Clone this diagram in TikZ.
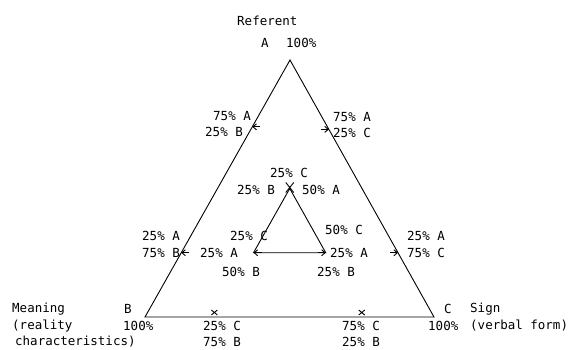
\documentclass[tikz,border=0pt]{standalone}
\usepackage{fontspec}
\setmonofont{DejaVu Sans Mono}
\usetikzlibrary{calc,arrows.meta}
\begin{document}
\begin{tikzpicture}[x=1pt,y=-1pt,
  lbl/.style={anchor=west,inner sep=0pt,font=\ttfamily\fontsize{12.5}{13}\selectfont},
  edge/.style={line width=0.9pt},
  tick/.style={line width=0.9pt},
  tickarrow/.style={line width=0.9pt,-{Straight Barb[length=3.5pt,width=6pt]}}]
\useasboundingbox (0,0) rectangle (578,350);
% vertices
\coordinate (A) at (290,60);
\coordinate (B) at (145,317);
\coordinate (C) at (434,317);
\coordinate (iA) at ($0.5*(A)+0.25*(B)+0.25*(C)$);
\coordinate (iB) at ($0.25*(A)+0.5*(B)+0.25*(C)$);
\coordinate (iC) at ($0.25*(A)+0.25*(B)+0.5*(C)$);
% triangles
\draw[edge] (A) -- (B) -- (C) -- cycle;
\draw[edge] (iA) -- (iB) -- (iC) -- cycle;
% marks on edges
\coordinate (mAB1) at ($(A)!0.26!(B)$);
\coordinate (mAB2) at ($(A)!0.75!(B)$);
\coordinate (mAC1) at ($(A)!0.27!(C)$);
\coordinate (mAC2) at ($(A)!0.75!(C)$);
\coordinate (mBC1) at ($(B)!0.24!(C)$);
\coordinate (mBC2) at ($(B)!0.75!(C)$);
\draw[tickarrow] ($(mAB1)+(8,0)$) -- (mAB1);
\draw[tickarrow] ($(mAB2)+(8,0)$) -- (mAB2);
\draw[tickarrow] ($(mAC1)+(-8,0)$) -- (mAC1);
\draw[tickarrow] ($(mAC2)+(-8,0)$) -- (mAC2);
\draw[tick] ($(mBC1)+(-3,-7)$) -- ($(mBC1)+(3,-2)$) ($(mBC1)+(3,-7)$) -- ($(mBC1)+(-3,-2)$);
\draw[tick] ($(mBC2)+(-3,-7)$) -- ($(mBC2)+(3,-2)$) ($(mBC2)+(3,-7)$) -- ($(mBC2)+(-3,-2)$);
\draw[tick] ($(iA)+(-4,-6)$) -- ($(iA)+(4,4)$) ($(iA)+(4,-6)$) -- ($(iA)+(-4,4)$);
\draw[tickarrow] ($(iB)+(8,0)$) -- (iB);
\draw[tickarrow] ($(iC)+(-8,0)$) -- (iC);
% labels
\node[lbl] (ref) at (237,21) {Referent};
\node[lbl] (lA) at (261,43) {A};
\node[lbl] (lA100) at (286,43) {100\%};
\node[lbl] (t1) at (213,116) {75\% A};
\node[lbl] (t2) at (205,132) {25\% B};
\node[lbl] (t3) at (333,117) {75\% A};
\node[lbl] (t4) at (333,133) {25\% C};
\node[lbl] (i1) at (270,173) {25\% C};
\node[lbl] (i2) at (237,190) {25\% B};
\node[lbl] (i3) at (302,190) {50\% A};
\node[lbl] (t5) at (142,236) {25\% A};
\node[lbl] (t6) at (142,253) {75\% B};
\node[lbl] (i4) at (230,236) {25\% C};
\node[lbl] (i5) at (200,253) {25\% A};
\node[lbl] (i6) at (222,272) {50\% B};
\node[lbl] (i7) at (325,230) {50\% C};
\node[lbl] (i8) at (330,253) {25\% A};
\node[lbl] (i9) at (317,272) {25\% B};
\node[lbl] (t7) at (407,236) {25\% A};
\node[lbl] (t8) at (407,253) {75\% C};
\node[lbl] (mean) at (12,309) {Meaning};
\node[lbl] (lB) at (124,309) {B};
\node[lbl] (real) at (12,326) {(reality};
\node[lbl] (lB100) at (123,326) {100\%};
\node[lbl] (chars) at (15,342) {characteristics)};
\node[lbl] (b1) at (203,326) {25\% C};
\node[lbl] (b2) at (203,342) {75\% B};
\node[lbl] (b3) at (342,326) {75\% C};
\node[lbl] (b4) at (342,342) {25\% B};
\node[lbl] (lC) at (444,309) {C};
\node[lbl] (sign) at (470,309) {Sign};
\node[lbl] (lC100) at (428,326) {100\%};
\node[lbl] (verb) at (470,326) {(verbal form)};
\end{tikzpicture}
\end{document}
